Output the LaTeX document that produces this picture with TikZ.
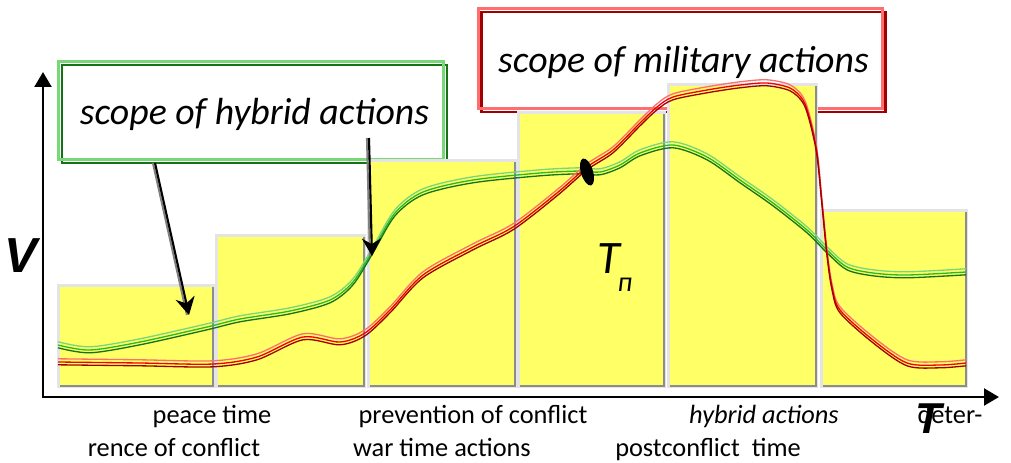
\documentclass[tikz,border=0pt]{standalone}
\usepackage{fontspec}
\setmainfont{Carlito}
\newfontfamily\axisfont{Liberation Sans}
\usetikzlibrary{arrows.meta}

\definecolor{barfill}{RGB}{255,255,102}
\definecolor{barlight}{RGB}{228,228,228}
\definecolor{barshade}{RGB}{140,140,140}
\definecolor{hyblight}{RGB}{120,215,120}
\definecolor{hybmid}{RGB}{40,185,40}
\definecolor{hybdark}{RGB}{20,115,20}
\definecolor{millight}{RGB}{255,110,110}
\definecolor{milmid}{RGB}{240,0,0}
\definecolor{mildark}{RGB}{160,0,0}

\tikzset{
  axis/.style={line width=1.7pt, line join=miter,
    {Triangle[length=8.5pt,width=9.5pt]}-{Triangle[length=8.5pt,width=9.5pt]}},
  hybbox/.style={fill=white, draw=hybdark, line width=1.3pt, inner sep=0pt,
    minimum width=7.7cm, minimum height=1.96cm,
    font=\itshape\fontsize{21.5}{25}\selectfont,
    postaction={draw=hyblight, line width=1.8pt, transform canvas={xshift=-1.8pt,yshift=1.8pt}}},
  milbox/.style={hybbox, draw=mildark, minimum width=8.08cm, minimum height=2cm,
    postaction={draw=millight, line width=1.8pt, transform canvas={xshift=-1.8pt,yshift=1.8pt}}},
  pointer/.style={black, line width=1.2pt, -{Stealth[length=10pt,width=11pt]},
    preaction={draw=gray, -, line width=1.1pt, transform canvas={xshift=-1.2pt}}},
  strand/.style={line width=0.75pt},
  timelabel/.style={anchor=base, font=\fontsize{15}{18}\selectfont}
}

\begin{document}
\begin{tikzpicture}[x=0.02cm, y=-0.02cm]

    % constants
    \def\bottom{385}
    \def\hybpts{(58,345) (90,350) (140,342) (207,327) (240,319) (290,311) (330,300) (353,282) (373,250) (395,213) (423,192) (473,180) (540,173) (580,171) (600,172) (620,165) (640,153) (673,145) (707,157) (740,180) (773,203) (807,230) (827,250) (847,267) (873,273) (907,275) (966,272)}
    \def\milpts{(58,362) (140,363) (213,364) (257,357) (303,337) (340,342) (365,333) (390,310) (423,275) (473,247) (513,227) (557,193) (587,167) (613,150) (640,123) (657,107) (673,97) (707,90) (740,85) (767,83) (790,88) (803,100) (810,120) (817,153) (822,203) (827,253) (832,287) (840,310) (873,340) (907,363) (940,365) (966,363)}

    \useasboundingbox (0,0) rectangle (1011,463);

    % scope boxes
    \node [hybbox] (hyb) at (254.5,114) {scope of hybrid actions};
    \node [milbox] (mil) at (683.5,62) {scope of military actions};

    % time bars
    \foreach \l/\t/\r in {60/287/212, 218/237/363, 370/162/514, 520/114/663, 670/86/815, 823/212/965} {
        \fill [barlight] (\l-3,\t-3) rectangle (\r+3,\bottom+3);
        \fill [barshade] (\l,\t) rectangle (\r+1.5,\bottom+1.5);
        \fill [barfill] (\l,\t) rectangle (\r-0.5,\bottom-0.5);
    }

    % axes
    \coordinate (O) at (43,397);
    \coordinate (vend) at (43,72);
    \coordinate (tend) at (999,397);
    \draw [axis] (vend) -- (O) -- (tend);
    \node [anchor=base, font=\axisfont\bfseries\itshape\fontsize{28}{30}\selectfont] (vlab) at (21,272) {V};

    % curves: light, middle, dark strand
    \foreach \dy/\col in {-3.2/hyblight, 0/hybmid, 2.8/hybdark}
        \draw [strand, \col, shift={(0,\dy)}] plot [smooth] coordinates {\hybpts};
    \foreach \dy/\col in {-3.2/millight, 0/milmid, 2.8/mildark}
        \draw [strand, \col, shift={(0,\dy)}] plot [smooth] coordinates {\milpts};

    % pointers from the hybrid box
    \coordinate (hybA) at (155,163);
    \coordinate (tipA) at (189,315);
    \coordinate (hybB) at (369,138);
    \coordinate (tipB) at (372,256);
    \draw [pointer] (hybA) -- (tipA);
    \draw [pointer] (hybB) -- (tipB);

    % crossing point
    \fill [black] (587,172) ellipse [x radius=0.12cm, y radius=0.28cm, rotate=17];
    \node [anchor=base, font=\itshape\fontsize{26.5}{30}\selectfont] (tp) at (609,273) {T};
    \node [anchor=base, font=\itshape\fontsize{16}{18}\selectfont] (tpsub) at (625,291) {п};

    % time labels, upper row then lower row
    \node [timelabel] (peace) at (212,423) {peace time};
    \node [timelabel] (prev) at (473,423) {prevention of conflict};
    \node [timelabel, font=\itshape\fontsize{15}{18}\selectfont] (hybt) at (764,423) {hybrid actions};
    \node [timelabel] (deter) at (950,423) {deter-};
    \node [timelabel] (rence) at (174,456) {rence of conflict};
    \node [timelabel] (war) at (442,456) {war time actions};
    \node [timelabel] (post) at (708,456) {postconflict\ \ time};
    \node [anchor=base, font=\axisfont\bfseries\itshape\fontsize{24.6}{28}\selectfont] (tlab) at (929,433) {T};

\end{tikzpicture}
\end{document}
